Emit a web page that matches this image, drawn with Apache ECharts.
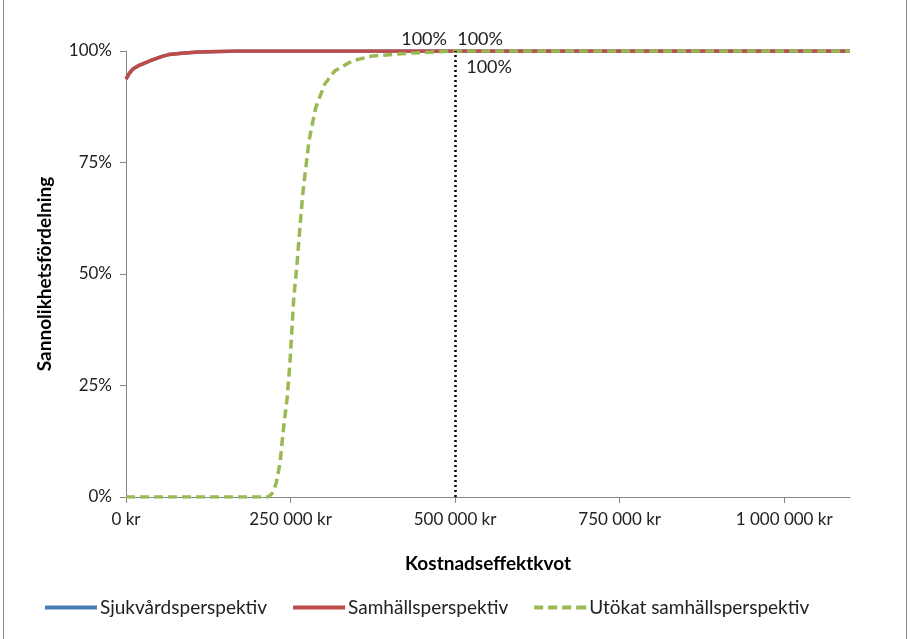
<!DOCTYPE html>
<html>
<head>
<meta charset="utf-8">
<script src="https://cdn.jsdelivr.net/npm/echarts@6/dist/echarts.min.js"></script>
<style>html,body{margin:0;padding:0;background:#fff}#c{width:910px;height:639px}</style>
</head>
<body>
<div id="c"></div>
<script>
// Data (x in kr, y in %)
var seriesNames = ['Sjukvårdsperspektiv', 'Samhällsperspektiv', 'Utökat samhällsperspektiv'];
var xTicks = [0, 250000, 500000, 750000, 1000000];
var yTicks = [0, 25, 50, 75, 100];
var thresholdX = 500000;

var sjukX = [0, 5000, 10000, 20000, 30000, 40000, 55000, 65000, 85000, 110000, 140000, 170000, 500000, 1100000];
var sjukY = [93.7, 95.0, 95.9, 96.8, 97.4, 98.0, 98.8, 99.2, 99.5, 99.8, 99.9, 100, 100, 100];

var samX = [0, 5000, 10000, 20000, 30000, 40000, 55000, 65000, 85000, 110000, 140000, 170000, 500000, 1100000];
var samY = [93.7, 95.0, 95.9, 96.8, 97.4, 98.0, 98.8, 99.2, 99.5, 99.8, 99.9, 100, 100, 100];

var utoX = [0, 216000, 222000, 228000, 234000, 239000, 245000, 249000, 252000, 255000, 260000, 264000, 269000, 278000, 288000, 302000, 317000, 344000, 375000, 430000, 500000, 1100000];
var utoY = [0, 0, 0.8, 3.0, 7.6, 15.0, 22.4, 30.0, 37.4, 44.8, 52.5, 60.1, 68.6, 79.8, 87.2, 92.6, 95.5, 97.8, 98.9, 99.5, 100, 100];

var colors = ['#4A7EBB', '#BE4B48', '#98B954'];
var labelOffsets = [[-31, 2], [25, 2], [34, 30]];
var font = 'Lato';

function pairs(xs, ys) {
  return xs.map(function (x, i) { return [x, ys[i]]; });
}
function valueAt(xs, ys, x) {
  var i = xs.indexOf(x);
  return ys[i];
}
function thresholdMark(xs, ys, idx) {
  return {
    silent: true, symbol: 'circle', symbolSize: 0,
    data: [{ coord: [thresholdX, valueAt(xs, ys, thresholdX)] }],
    label: {
      show: true, position: 'top', offset: labelOffsets[idx],
      formatter: function (p) { return Math.round(p.data.coord[1]) + '%'; },
      fontFamily: font, fontSize: 18, color: '#222'
    }
  };
}

function fmtKr(v) {
  return String(v).replace(/\B(?=(\d{3})+(?!\d))/g, ' ') + ' kr';
}

var chart = echarts.init(document.getElementById('c'), null, { renderer: 'canvas' });
chart.setOption({
  animation: false,
  backgroundColor: '#fff',
  graphic: [{
    type: 'rect', shape: { x: 3.5, y: -5, width: 903, height: 650 },
    style: { fill: 'none', stroke: '#8a8a8a', lineWidth: 1 }, silent: true
  }],
  grid: { left: 126, right: 60, top: 51, bottom: 142, containLabel: false },
  legend: {
    bottom: 17, left: 40,
    itemWidth: 52, itemHeight: 4, itemGap: 26,
    textStyle: { fontFamily: font, fontSize: 19, color: '#222', padding: [0, 0, 0, -2] },
    data: [
      { name: seriesNames[0], icon: 'rect' },
      { name: seriesNames[1], icon: 'rect' },
      { name: seriesNames[2], icon: 'path://M0,0h9v4h-9zM14,0h9v4h-9zM28,0h9v4h-9zM42,0h10v4h-10z' }
    ]
  },
  xAxis: {
    type: 'value', min: 0, max: 1100000,
    name: 'Kostnadseffektkvot', nameLocation: 'middle', nameGap: 57,
    nameTextStyle: { fontFamily: font, fontSize: 19, fontWeight: 'bold', color: '#000' },
    axisLine: { show: true, lineStyle: { color: '#868686' } },
    axisTick: { show: true, customValues: xTicks, length: 6, lineStyle: { color: '#868686' } },
    axisLabel: { customValues: xTicks, formatter: fmtKr, fontFamily: font, fontSize: 17, color: '#222', margin: 14 },
    splitLine: { show: false }
  },
  yAxis: {
    type: 'value', min: 0, max: 100, interval: 25,
    name: 'Sannolikhetsfördelning', nameLocation: 'middle', nameGap: 72,
    nameTextStyle: { fontFamily: font, fontSize: 19, fontWeight: 'bold', color: '#000' },
    axisLine: { show: true, lineStyle: { color: '#868686' } },
    axisTick: { show: true, length: 6, lineStyle: { color: '#868686' } },
    axisLabel: { formatter: '{value}%', fontFamily: font, fontSize: 17, color: '#222', margin: 14 },
    splitLine: { show: false }
  },
  series: [
    {
      name: seriesNames[0], type: 'line', symbol: 'none', z: 2,
      color: colors[0], lineStyle: { width: 3.5, color: colors[0] },
      data: pairs(sjukX, sjukY),
      markPoint: thresholdMark(sjukX, sjukY, 0),
      markLine: {
        silent: true, symbol: 'none', label: { show: false },
        lineStyle: { color: '#000', type: [2, 3], width: 2.5 },
        data: [[{ coord: [thresholdX, 0] }, { coord: [thresholdX, 100] }]]
      }
    },
    {
      name: seriesNames[1], type: 'line', symbol: 'none', z: 3,
      color: colors[1], lineStyle: { width: 3.5, color: colors[1] },
      data: pairs(samX, samY),
      markPoint: thresholdMark(samX, samY, 1)
    },
    {
      name: seriesNames[2], type: 'line', symbol: 'none', z: 4,
      color: colors[2], lineStyle: { width: 3.5, color: colors[2], type: [9, 5] },
      data: pairs(utoX, utoY),
      markPoint: thresholdMark(utoX, utoY, 2)
    }
  ]
});
</script>
</body>
</html>
